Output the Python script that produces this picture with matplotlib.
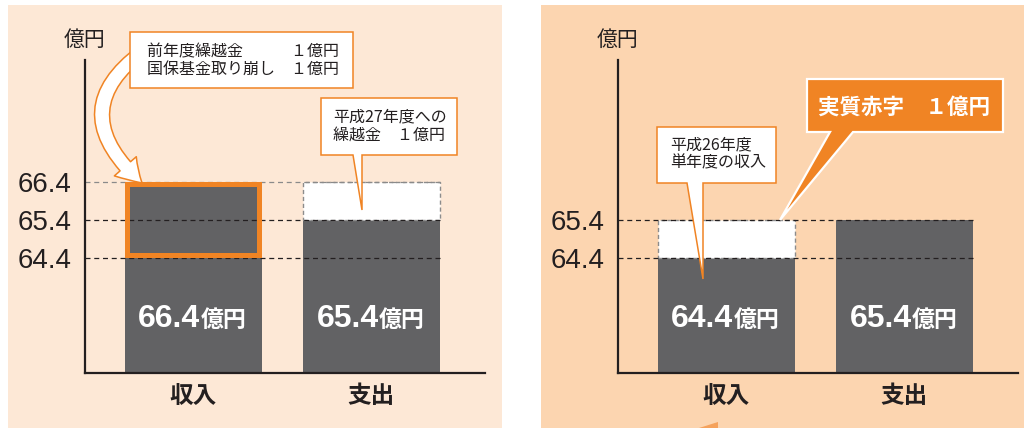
import matplotlib
matplotlib.use('Agg')
import matplotlib.pyplot as plt
from matplotlib.patches import Rectangle, Polygon, FancyArrowPatch
import numpy as np

plt.rcParams['font.family'] = ['Noto Sans CJK JP', 'DejaVu Sans']

# ---------------- data ----------------
categories = ['収入', '支出']
unit_label = '億円'

# left panel: 収入 includes carry-over + fund withdrawal, 支出 plus carry-over to H27
left_solid = [66.4, 65.4]          # dark bars
left_extra = [0.0, 1.0]            # white dashed segment on top
left_highlight = [64.4, 66.4]      # orange-outlined segment on 収入
left_ticks = [64.4, 65.4, 66.4]
left_labels = ['66.4', '65.4']

# right panel: single-year income vs expenditure
right_solid = [64.4, 65.4]
right_extra = [1.0, 0.0]
right_ticks = [64.4, 65.4]
right_labels = ['64.4', '65.4']

box1_lines = ['前年度繰越金　　　１億円', '国保基金取り崩し　１億円']
box2_lines = ['平成27年度への', '繰越金　１億円']
box3_lines = ['平成26年度', '単年度の収入']
deficit_text = '実質赤字　１億円'

# ---------------- style ----------------
W, H = 1024, 428
GRAY = '#626264'
ORANGE = '#F08424'
DARK = '#231F20'
BG_L = '#FDE8D6'
BG_R = '#FCD5B0'
Y_BASE = 61.374
Y_TOP = 69.61
XL = (-0.607, 1.637)
BW = 0.77

fig = plt.figure(figsize=(W / 100, H / 100), dpi=100)
fig.patch.set_facecolor('white')


def P(x, y):
    """pixel (from top-left) -> figure fraction"""
    return (x / W, 1 - y / H)


# panel backgrounds
fig.patches.append(Rectangle(P(8, 428), 494 / W, 423 / H, transform=fig.transFigure,
                             facecolor=BG_L, edgecolor='none', zorder=-5))
fig.patches.append(Rectangle(P(541, 428), 483 / W, 423 / H, transform=fig.transFigure,
                             facecolor=BG_R, edgecolor='none', zorder=-5))


def make_axes(left_px, solid, extra, ticks, labels):
    ax = fig.add_axes([left_px / W, (H - 373) / H, 400 / W, 313 / H])
    ax.patch.set_alpha(0)
    ax.set_xlim(*XL)
    ax.set_ylim(Y_BASE, Y_TOP)
    x = np.arange(len(categories))
    solid = np.array(solid)
    extra = np.array(extra)
    ax.bar(x, solid - Y_BASE, bottom=Y_BASE, width=BW, color=GRAY, zorder=2)
    m = extra > 0
    ax.bar(x[m], extra[m], bottom=solid[m], width=BW, facecolor='white',
           edgecolor='#8c8c8c', linestyle=(0, (3, 2)), linewidth=1.0, zorder=3)
    top = max(ticks)
    for t in ticks:
        col = '#8a8a8a' if (t == top and len(ticks) == 3) else DARK
        ax.hlines(t, XL[0], 1 + BW / 2, colors=col, linestyles=(0, (4, 3)),
                  linewidth=0.9, zorder=4)
    for s in ['top', 'right']:
        ax.spines[s].set_visible(False)
    for s in ['left', 'bottom']:
        ax.spines[s].set_linewidth(1.6)
        ax.spines[s].set_color(DARK)
        ax.spines[s].set_zorder(6)
    ax.set_yticks(ticks, [f'{t:.1f}' for t in ticks])
    ax.tick_params(axis='y', length=0, pad=9.5, labelsize=20, labelcolor=DARK)
    for lb in ax.get_yticklabels():
        lb.set_fontfamily(['Liberation Sans', 'DejaVu Sans'])
    ax.set_xticks([])
    trans = ax.get_xaxis_transform()
    for i, c in enumerate(categories):
        ax.text(i, -23 / 313, c, transform=trans, ha='center', va='center',
                fontsize=17, fontweight='bold', color=DARK)
    # value labels inside bars
    yv = Y_BASE + (373 - 327) / 38
    for i, v in enumerate(labels):
        ax.text(i + 0.04, yv, v, ha='right', va='baseline', fontsize=23,
                fontweight='bold', color='white', zorder=7,
                family=['Liberation Sans', 'DejaVu Sans'])
        ax.text(i + 0.04, yv, unit_label, ha='left', va='baseline', fontsize=16.5,
                fontweight='bold', color='white', zorder=7)
    # unit label above axis
    ax.text(XL[0], Y_TOP + (60 - 40) / 38, unit_label, ha='center', va='center',
            fontsize=15, color=DARK, clip_on=False)
    return ax


ax1 = make_axes(85, left_solid, left_extra, left_ticks, left_labels)
ax2 = make_axes(618, right_solid, right_extra, right_ticks, right_labels)

# orange highlight on left 収入
ix, iy = 2.5 / 178, 2.5 / 38
ax1.add_patch(Rectangle((0 - BW / 2 + ix, left_highlight[0] + iy), BW - 2 * ix,
                        left_highlight[1] - left_highlight[0] - 2 * iy,
                        fill=False, edgecolor=ORANGE, linewidth=3.6, zorder=5))


def callout(pts, face, edge, lw, z=10):
    poly = Polygon([P(*p) for p in pts], closed=True, transform=fig.transFigure,
                   facecolor=face, edgecolor=edge, linewidth=lw, zorder=z,
                   joinstyle='miter')
    fig.patches.append(poly)


# curved arrow (left panel)
arrow = FancyArrowPatch(P(152, 45), P(142, 183), transform=fig.transFigure,
                        connectionstyle='arc3,rad=0.65',
                        arrowstyle='simple,head_width=1.05,head_length=0.85,tail_width=0.5',
                        mutation_scale=20, facecolor='white', edgecolor=ORANGE,
                        linewidth=1.1, shrinkA=0, shrinkB=0, zorder=9)
fig.patches.append(arrow)

# box 1
callout([(130, 32), (353, 32), (353, 88), (130, 88)], 'white', ORANGE, 1.1)
for k, line in enumerate(box1_lines):
    fig.text(*P(147, 52 + 17 * k), line, ha='left', va='center', fontsize=11.5,
             color=DARK, zorder=11)

# box 2 with tail
callout([(321, 98), (457, 98), (457, 155), (362, 155), (362, 210), (353, 155),
         (321, 155)], 'white', ORANGE, 1.1)
for k, line in enumerate(box2_lines):
    fig.text(*P(333, 117 + 18 * k), line, ha='left', va='center', fontsize=11.5,
             color=DARK, zorder=11)

# right white box with tail
callout([(657, 127), (776, 127), (776, 183), (703, 183), (703, 279), (687, 183),
         (657, 183)], 'white', ORANGE, 1.1)
for k, line in enumerate(box3_lines):
    fig.text(*P(670, 145 + 18 * k), line, ha='left', va='center', fontsize=11.5,
             color=DARK, zorder=11)

# orange deficit callout
callout([(807, 79), (1003, 79), (1003, 132), (853, 132), (780, 220), (830, 132),
         (807, 132)], ORANGE, 'white', 1.6)
fig.text(*P(818, 107), deficit_text, ha='left', va='center', fontsize=15.5,
         fontweight='bold', color='white', zorder=11)

# small orange sliver at bottom of right panel
callout([(699, 428), (718, 422), (718, 428)], '#F5A25C', 'none', 0, z=1)

fig.savefig('out.png', dpi=100, facecolor='white')
